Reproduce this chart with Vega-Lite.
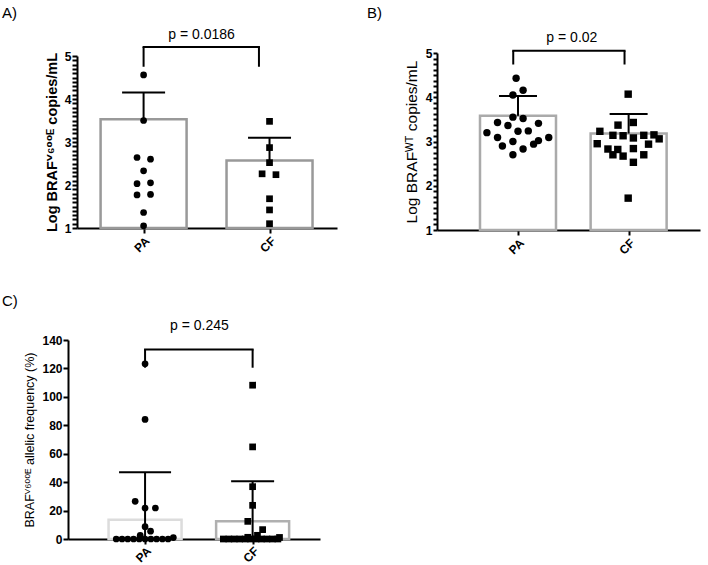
{
  "$schema": "https://vega.github.io/schema/vega-lite/v6.json",
  "background": "white",
  "padding": {"left": 1, "top": 4, "right": 1, "bottom": 1},
  "spacing": 36,
  "datasets": {
    "none": [],
    "a_bars": [
      {"grp": "PA", "x": 1, "y": 3.53, "upper": 4.15},
      {"grp": "CF", "x": 2, "y": 2.57, "upper": 3.10}
    ],
    "a_caps": [
      {"grp": "PA", "x": 1, "y": 4.15},
      {"grp": "CF", "x": 2, "y": 3.10}
    ],
    "a_pts": [
      {"grp": "PA", "x": 1.0, "y": 4.56},
      {"grp": "PA", "x": 1.0, "y": 3.50},
      {"grp": "PA", "x": 0.948, "y": 2.64},
      {"grp": "PA", "x": 1.055, "y": 2.60},
      {"grp": "PA", "x": 1.0, "y": 2.33},
      {"grp": "PA", "x": 0.948, "y": 2.03},
      {"grp": "PA", "x": 1.055, "y": 2.05},
      {"grp": "PA", "x": 0.948, "y": 1.77},
      {"grp": "PA", "x": 1.055, "y": 1.78},
      {"grp": "PA", "x": 1.0, "y": 1.36},
      {"grp": "PA", "x": 1.0, "y": 1.05},
      {"grp": "CF", "x": 2.0, "y": 3.48},
      {"grp": "CF", "x": 2.0, "y": 2.87},
      {"grp": "CF", "x": 2.0, "y": 2.52},
      {"grp": "CF", "x": 1.941, "y": 2.26},
      {"grp": "CF", "x": 2.051, "y": 2.24},
      {"grp": "CF", "x": 2.0, "y": 1.68},
      {"grp": "CF", "x": 2.0, "y": 1.42},
      {"grp": "CF", "x": 2.0, "y": 1.10}
    ],
    "a_brh": [{"x": 1.0, "xe": 1.916, "y": 5.21}],
    "a_brv": [{"x": 1.0, "y": 4.75, "ye": 5.21}, {"x": 1.916, "y": 4.75, "ye": 5.21}],
    "a_p": [{"x": 1.46, "y": 5.5, "p": "p = 0.0186"}],
    "b_bars": [
      {"grp": "PA", "x": 1, "y": 3.58, "upper": 4.03},
      {"grp": "CF", "x": 2, "y": 3.18, "upper": 3.62}
    ],
    "b_caps": [
      {"grp": "PA", "x": 1, "y": 4.03},
      {"grp": "CF", "x": 2, "y": 3.62}
    ],
    "b_pts": [
      {"grp": "PA", "x": 0.983, "y": 4.43},
      {"grp": "PA", "x": 1.046, "y": 4.16},
      {"grp": "PA", "x": 0.954, "y": 4.05},
      {"grp": "PA", "x": 0.954, "y": 3.55},
      {"grp": "PA", "x": 1.046, "y": 3.52},
      {"grp": "PA", "x": 0.815, "y": 3.43},
      {"grp": "PA", "x": 0.909, "y": 3.36},
      {"grp": "PA", "x": 1.185, "y": 3.41},
      {"grp": "PA", "x": 0.719, "y": 3.20},
      {"grp": "PA", "x": 1.0, "y": 3.23},
      {"grp": "PA", "x": 1.093, "y": 3.24},
      {"grp": "PA", "x": 0.815, "y": 3.09},
      {"grp": "PA", "x": 1.278, "y": 3.09},
      {"grp": "PA", "x": 0.954, "y": 3.00},
      {"grp": "PA", "x": 1.185, "y": 3.02},
      {"grp": "PA", "x": 0.859, "y": 2.90},
      {"grp": "PA", "x": 1.141, "y": 2.94},
      {"grp": "PA", "x": 1.046, "y": 2.83},
      {"grp": "PA", "x": 0.954, "y": 2.70},
      {"grp": "CF", "x": 1.996, "y": 4.07},
      {"grp": "CF", "x": 1.74, "y": 3.23},
      {"grp": "CF", "x": 1.904, "y": 3.37},
      {"grp": "CF", "x": 2.042, "y": 3.43},
      {"grp": "CF", "x": 1.858, "y": 3.14},
      {"grp": "CF", "x": 1.95, "y": 3.13},
      {"grp": "CF", "x": 2.137, "y": 3.14},
      {"grp": "CF", "x": 2.229, "y": 3.15},
      {"grp": "CF", "x": 2.276, "y": 3.06},
      {"grp": "CF", "x": 2.043, "y": 3.08},
      {"grp": "CF", "x": 1.716, "y": 2.95},
      {"grp": "CF", "x": 2.18, "y": 2.94},
      {"grp": "CF", "x": 1.813, "y": 2.83},
      {"grp": "CF", "x": 1.902, "y": 2.82},
      {"grp": "CF", "x": 2.043, "y": 2.84},
      {"grp": "CF", "x": 1.858, "y": 2.70},
      {"grp": "CF", "x": 1.95, "y": 2.67},
      {"grp": "CF", "x": 2.137, "y": 2.70},
      {"grp": "CF", "x": 2.043, "y": 2.53},
      {"grp": "CF", "x": 1.996, "y": 1.72}
    ],
    "b_brh": [{"x": 0.957, "xe": 1.963, "y": 5.05}],
    "b_brv": [{"x": 0.957, "y": 4.74, "ye": 5.05}, {"x": 1.963, "y": 4.74, "ye": 5.05}],
    "b_p": [{"x": 1.487, "y": 5.35, "p": "p = 0.02"}],
    "c_bars": [
      {"grp": "PA", "x": 1, "y": 13.6},
      {"grp": "CF", "x": 2, "y": 12.4}
    ],
    "c_caps": [
      {"grp": "PA", "x": 1, "y": 46.9},
      {"grp": "CF", "x": 2, "y": 40.6}
    ],
    "c_pts": [
      {"grp": "PA", "x": 1.0, "y": 123.3},
      {"grp": "PA", "x": 1.0, "y": 84.1},
      {"grp": "PA", "x": 0.908, "y": 26.5},
      {"grp": "PA", "x": 1.0, "y": 21.8},
      {"grp": "PA", "x": 1.096, "y": 21.8},
      {"grp": "PA", "x": 1.0, "y": 8.7},
      {"grp": "PA", "x": 1.051, "y": 5.5},
      {"grp": "PA", "x": 0.955, "y": 2.6},
      {"grp": "PA", "x": 0.732, "y": 0},
      {"grp": "PA", "x": 0.786, "y": 0},
      {"grp": "PA", "x": 0.839, "y": 0},
      {"grp": "PA", "x": 0.893, "y": 0},
      {"grp": "PA", "x": 0.946, "y": 0},
      {"grp": "PA", "x": 1.0, "y": 0},
      {"grp": "PA", "x": 1.054, "y": 0},
      {"grp": "PA", "x": 1.107, "y": 0},
      {"grp": "PA", "x": 1.161, "y": 0},
      {"grp": "PA", "x": 1.214, "y": 0},
      {"grp": "PA", "x": 1.263, "y": 1.0},
      {"grp": "CF", "x": 2.0, "y": 108.2},
      {"grp": "CF", "x": 2.0, "y": 64.8},
      {"grp": "CF", "x": 2.0, "y": 36.8},
      {"grp": "CF", "x": 2.0, "y": 23.7},
      {"grp": "CF", "x": 1.955, "y": 12.4},
      {"grp": "CF", "x": 2.093, "y": 6.6},
      {"grp": "CF", "x": 2.045, "y": 2.6},
      {"grp": "CF", "x": 1.955, "y": 1.2},
      {"grp": "CF", "x": 2.25, "y": 1.1},
      {"grp": "CF", "x": 1.728, "y": 0},
      {"grp": "CF", "x": 1.779, "y": 0},
      {"grp": "CF", "x": 1.829, "y": 0},
      {"grp": "CF", "x": 1.88, "y": 0},
      {"grp": "CF", "x": 1.931, "y": 0},
      {"grp": "CF", "x": 1.981, "y": 0},
      {"grp": "CF", "x": 2.032, "y": 0},
      {"grp": "CF", "x": 2.082, "y": 0},
      {"grp": "CF", "x": 2.133, "y": 0},
      {"grp": "CF", "x": 2.184, "y": 0},
      {"grp": "CF", "x": 2.235, "y": 0}
    ],
    "c_brh": [{"x": 1.0, "xe": 2.0, "y": 133.4}],
    "c_brv": [{"x": 1.0, "y": 120.5, "ye": 133.4}, {"x": 2.0, "y": 120.5, "ye": 133.4}],
    "c_p": [{"x": 1.506, "y": 149.8, "p": "p = 0.245"}]
  },
  "vconcat": [
    {
      "spacing": 29,
      "hconcat": [
        {
          "spacing": 0,
          "hconcat": [
            {"width": 1, "height": 1, "data": {"name": "none"}, "mark": {"type": "point", "opacity": 0}},
            {
              "spacing": 0,
              "vconcat": [
                {"width": 1, "height": 1, "data": {"name": "none"}, "mark": {"type": "point", "opacity": 0}},
                {
                  "width": 260,
                  "height": 172,
                  "title": {"text": "A)", "dx": -75, "offset": 7},
                  "encoding": {
                    "x": {"field": "x", "type": "quantitative", "title": null, "scale": {"domain": [0.511, 2.496], "nice": false, "zero": false},
                      "axis": {"values": [1, 2], "labelExpr": "datum.value == 1 ? 'PA' : 'CF'", "labelAngle": -45, "tickSize": 5, "labelPadding": 2}},
                    "y": {"field": "y", "type": "quantitative", "title": "Log BRAFⱽ⁶⁰⁰ᴱ copies/mL", "scale": {"domain": [1, 5], "nice": false, "zero": false},
                      "axis": {"values": [1,1.1,1.2,1.3,1.4,1.5,1.6,1.7,1.8,1.9,2,2.1,2.2,2.3,2.4,2.5,2.6,2.7,2.8,2.9,3,3.1,3.2,3.3,3.4,3.5,3.6,3.7,3.8,3.9,4,4.1,4.2,4.3,4.4,4.5,4.6,4.7,4.8,4.9,5],
                        "labelExpr": "datum.value % 1 === 0 ? format(datum.value, 'd') : ''", "labelOverlap": false,
                        "tickSize": 5,
                        "encode": {"ticks": {"update": {"x2": {"signal": "datum.value % 1 === 0 ? -5 : -3"}, "strokeWidth": {"signal": "datum.value % 1 === 0 ? 2 : 1.5"}}}},
                        "labelPadding": 1, "titleFontSize": 14.5, "titleFontWeight": "bold", "titlePadding": 5}}
                  },
                  "layer": [
                    {
                      "data": {"name": "a_bars"},
                      "mark": {"type": "bar", "width": 86, "fill": "white", "stroke": "#999999", "strokeWidth": 2.5},
                      "encoding": {"y2": {"datum": 1}}
                    },
                    {
                      "data": {"name": "a_bars"},
                      "mark": {"type": "rule", "stroke": "black", "strokeWidth": 2},
                      "encoding": {"y2": {"field": "upper"}}
                    },
                    {
                      "data": {"name": "a_caps"},
                      "mark": {"type": "tick", "orient": "horizontal", "size": 43, "thickness": 2, "color": "black", "opacity": 1}
                    },
                    {
                      "data": {"name": "a_pts"},
                      "mark": {"type": "point", "filled": true, "color": "black", "opacity": 1, "size": 45},
                      "encoding": {"shape": {"field": "grp", "type": "nominal", "scale": {"domain": ["PA", "CF"], "range": ["circle", "square"]}, "legend": null}}
                    },
                    {
                      "data": {"name": "a_brh"},
                      "mark": {"type": "rule", "stroke": "black", "strokeWidth": 2, "strokeCap": "square"},
                      "encoding": {"x2": {"field": "xe"}}
                    },
                    {
                      "data": {"name": "a_brv"},
                      "mark": {"type": "rule", "stroke": "black", "strokeWidth": 2},
                      "encoding": {"y2": {"field": "ye"}}
                    },
                    {
                      "data": {"name": "a_p"},
                      "mark": {"type": "text", "fontSize": 14, "color": "black", "baseline": "middle"},
                      "encoding": {"text": {"field": "p"}}
                    }
                  ]
                }
              ]
            }
          ]
        },
        {
          "spacing": 0,
          "hconcat": [
            {"width": 1, "height": 1, "data": {"name": "none"}, "mark": {"type": "point", "opacity": 0}},
            {
              "spacing": 0,
              "vconcat": [
                {"width": 1, "height": 1, "data": {"name": "none"}, "mark": {"type": "point", "opacity": 0}},
                {
                  "width": 263,
                  "height": 177,
                  "title": {"text": "B)", "dx": -70, "offset": 10},
                  "encoding": {
                    "x": {"field": "x", "type": "quantitative", "title": null, "scale": {"domain": [0.313, 2.6], "nice": false, "zero": false},
                      "axis": {"values": [1, 2], "labelExpr": "datum.value == 1 ? 'PA' : 'CF'", "labelAngle": -45, "tickSize": 5, "labelPadding": 2}},
                    "y": {"field": "y", "type": "quantitative", "title": "Log BRAFᵂᵀ copies/mL", "scale": {"domain": [1, 5], "nice": false, "zero": false},
                      "axis": {"values": [1,1.125,1.25,1.375,1.5,1.625,1.75,1.875,2,2.125,2.25,2.375,2.5,2.625,2.75,2.875,3,3.125,3.25,3.375,3.5,3.625,3.75,3.875,4,4.125,4.25,4.375,4.5,4.625,4.75,4.875,5],
                        "labelExpr": "datum.value % 1 === 0 ? format(datum.value, 'd') : ''", "labelOverlap": false,
                        "tickSize": 4,
                        "encode": {"ticks": {"update": {"x2": {"signal": "datum.value % 1 === 0 ? -4 : -3"}, "strokeWidth": {"signal": "datum.value % 1 === 0 ? 2 : 1.5"}}}},
                        "labelPadding": 1, "titleFontSize": 15.5, "titleFontWeight": "normal", "titlePadding": 6}}
                  },
                  "layer": [
                    {
                      "data": {"name": "b_bars"},
                      "mark": {"type": "bar", "width": 76, "fill": "white", "stroke": "#aaaaaa", "strokeWidth": 2.5},
                      "encoding": {"y2": {"datum": 1}}
                    },
                    {
                      "data": {"name": "b_bars"},
                      "mark": {"type": "rule", "stroke": "black", "strokeWidth": 2},
                      "encoding": {"y2": {"field": "upper"}}
                    },
                    {
                      "data": {"name": "b_caps"},
                      "mark": {"type": "tick", "orient": "horizontal", "size": 38, "thickness": 2, "color": "black", "opacity": 1}
                    },
                    {
                      "data": {"name": "b_pts"},
                      "mark": {"type": "point", "filled": true, "color": "black", "opacity": 1, "size": 55},
                      "encoding": {"shape": {"field": "grp", "type": "nominal", "scale": {"domain": ["PA", "CF"], "range": ["circle", "square"]}, "legend": null}}
                    },
                    {
                      "data": {"name": "b_brh"},
                      "mark": {"type": "rule", "stroke": "black", "strokeWidth": 2, "strokeCap": "square"},
                      "encoding": {"x2": {"field": "xe"}}
                    },
                    {
                      "data": {"name": "b_brv"},
                      "mark": {"type": "rule", "stroke": "black", "strokeWidth": 2},
                      "encoding": {"y2": {"field": "ye"}}
                    },
                    {
                      "data": {"name": "b_p"},
                      "mark": {"type": "text", "fontSize": 14, "color": "black", "baseline": "middle"},
                      "encoding": {"text": {"field": "p"}}
                    }
                  ]
                }
              ]
            }
          ]
        }
      ]
    },
    {
      "spacing": 0,
      "hconcat": [
        {"width": 1, "height": 1, "data": {"name": "none"}, "mark": {"type": "point", "opacity": 0}},
        {
          "spacing": 0,
          "vconcat": [
            {"width": 1, "height": 1, "data": {"name": "none"}, "mark": {"type": "point", "opacity": 0}},
            {
              "width": 252,
              "height": 199,
              "title": {"text": "C)", "dx": -66, "offset": 10},
              "encoding": {
                "x": {"field": "x", "type": "quantitative", "title": null, "scale": {"domain": [0.33, 2.58], "nice": false, "zero": false},
                  "axis": {"values": [1, 2], "labelExpr": "datum.value == 1 ? 'PA' : 'CF'", "labelAngle": -45, "tickSize": 5, "labelPadding": 1}},
                "y": {"field": "y", "type": "quantitative", "title": "BRAFⱽ⁶⁰⁰ᴱ allelic frequency (%)", "scale": {"domain": [0, 140], "nice": false},
                  "axis": {"values": [0, 20, 40, 60, 80, 100, 120, 140], "labelOverlap": false, "tickSize": 5, "labelPadding": 1, "titleFontSize": 12.5, "titleFontWeight": "normal", "titlePadding": 5}}
              },
              "layer": [
                {
                  "data": {"name": "c_bars"},
                  "mark": {"type": "bar", "width": 73, "fill": "white", "strokeWidth": 2.5},
                  "encoding": {
                    "y2": {"datum": 0},
                    "stroke": {"field": "grp", "type": "nominal", "scale": {"domain": ["PA", "CF"], "range": ["#dcdcdc", "#b0b0b0"]}, "legend": null}
                  }
                },
                {
                  "data": {"name": "c_caps"},
                  "mark": {"type": "rule", "stroke": "black", "strokeWidth": 2},
                  "encoding": {"y2": {"datum": 0}}
                },
                {
                  "data": {"name": "c_caps"},
                  "mark": {"type": "tick", "orient": "horizontal", "thickness": 2, "color": "black", "opacity": 1},
                  "encoding": {"size": {"field": "grp", "type": "nominal", "scale": {"domain": ["PA", "CF"], "range": [52, 43]}, "legend": null}}
                },
                {
                  "data": {"name": "c_pts"},
                  "mark": {"type": "point", "filled": true, "color": "black", "opacity": 1, "size": 45},
                  "encoding": {"shape": {"field": "grp", "type": "nominal", "scale": {"domain": ["PA", "CF"], "range": ["circle", "square"]}, "legend": null}}
                },
                {
                  "data": {"name": "c_brh"},
                  "mark": {"type": "rule", "stroke": "black", "strokeWidth": 2, "strokeCap": "square"},
                  "encoding": {"x2": {"field": "xe"}}
                },
                {
                  "data": {"name": "c_brv"},
                  "mark": {"type": "rule", "stroke": "black", "strokeWidth": 2},
                  "encoding": {"y2": {"field": "ye"}}
                },
                {
                  "data": {"name": "c_p"},
                  "mark": {"type": "text", "fontSize": 14, "color": "black", "baseline": "middle"},
                  "encoding": {"text": {"field": "p"}}
                }
              ]
            }
          ]
        }
      ]
    }
  ],
  "config": {
    "font": "Liberation Sans, Arial, DejaVu Sans, sans-serif",
    "view": {"stroke": null},
    "axis": {"grid": false, "labelOverlap": false, "domainColor": "#000000", "domainWidth": 2, "tickColor": "#000000", "tickWidth": 2, "labelColor": "#000000", "labelFontWeight": "bold", "labelFontSize": 12, "titleColor": "#000000"},
    "title": {"fontSize": 15, "fontWeight": "normal", "color": "#000000", "anchor": "start", "frame": "group"}
  }
}
